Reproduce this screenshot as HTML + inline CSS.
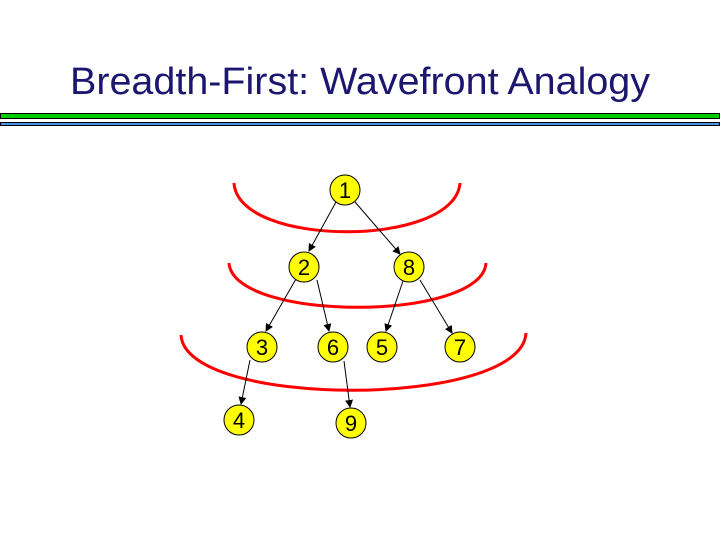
<!DOCTYPE html>
<html><head><style>
body{margin:0;width:720px;height:540px;background:#fff;overflow:hidden;font-family:"Liberation Sans",sans-serif;}
</style></head><body>
<svg width="720" height="540" xmlns="http://www.w3.org/2000/svg">
<defs><marker id="a" markerWidth="8" markerHeight="8" refX="7" refY="4" orient="auto" markerUnits="userSpaceOnUse"><path d="M0,0 L8,4 L0,8 Z" fill="#000"/></marker></defs>
<text x="360" y="94" text-anchor="middle" font-size="38" fill="#1c1670" font-family="Liberation Sans, sans-serif" textLength="580" lengthAdjust="spacingAndGlyphs">Breadth-First: Wavefront Analogy</text>
<rect x="0.5" y="113.5" width="719" height="5" fill="#00cc00" stroke="#000"/>
<rect x="0.5" y="122.5" width="719" height="3" fill="#4a90e8" stroke="#000"/>
<g fill="none" stroke="#ff0000" stroke-width="3">
<path d="M234,183 C238,248 455,248 460,183"/>
<path d="M229,263 C233,322 482,322 486,263"/>
<path d="M181,335 C185,409 522,409 526,333"/>
</g>
<g stroke="#000" stroke-width="1" marker-end="url(#a)">
<line x1="336" y1="202" x2="309" y2="251"/>
<line x1="355" y1="202" x2="400" y2="254"/>
<line x1="296" y1="279" x2="266" y2="331"/>
<line x1="317" y1="280" x2="329" y2="331"/>
<line x1="403" y1="281" x2="386" y2="331"/>
<line x1="420" y1="280" x2="452" y2="333"/>
<line x1="250" y1="360" x2="241" y2="404"/>
<line x1="344" y1="361" x2="350" y2="407"/>
</g>
<g fill="#ffff00" stroke="#000" stroke-width="1">
<circle cx="345" cy="190" r="15"/><circle cx="304" cy="267" r="15"/><circle cx="409" cy="267" r="15"/>
<circle cx="262" cy="347" r="15"/><circle cx="333" cy="347" r="15"/><circle cx="382" cy="347" r="15"/>
<circle cx="460" cy="347" r="15"/><circle cx="239" cy="420" r="15"/><circle cx="351" cy="423" r="15"/>
</g>
<g font-size="22" text-anchor="middle" fill="#000">
<text x="345" y="198">1</text><text x="304" y="275">2</text><text x="409" y="275">8</text>
<text x="262" y="355">3</text><text x="333" y="355">6</text><text x="382" y="355">5</text>
<text x="460" y="355">7</text><text x="239" y="428">4</text><text x="351" y="431">9</text>
</g>
</svg>
</body></html>
